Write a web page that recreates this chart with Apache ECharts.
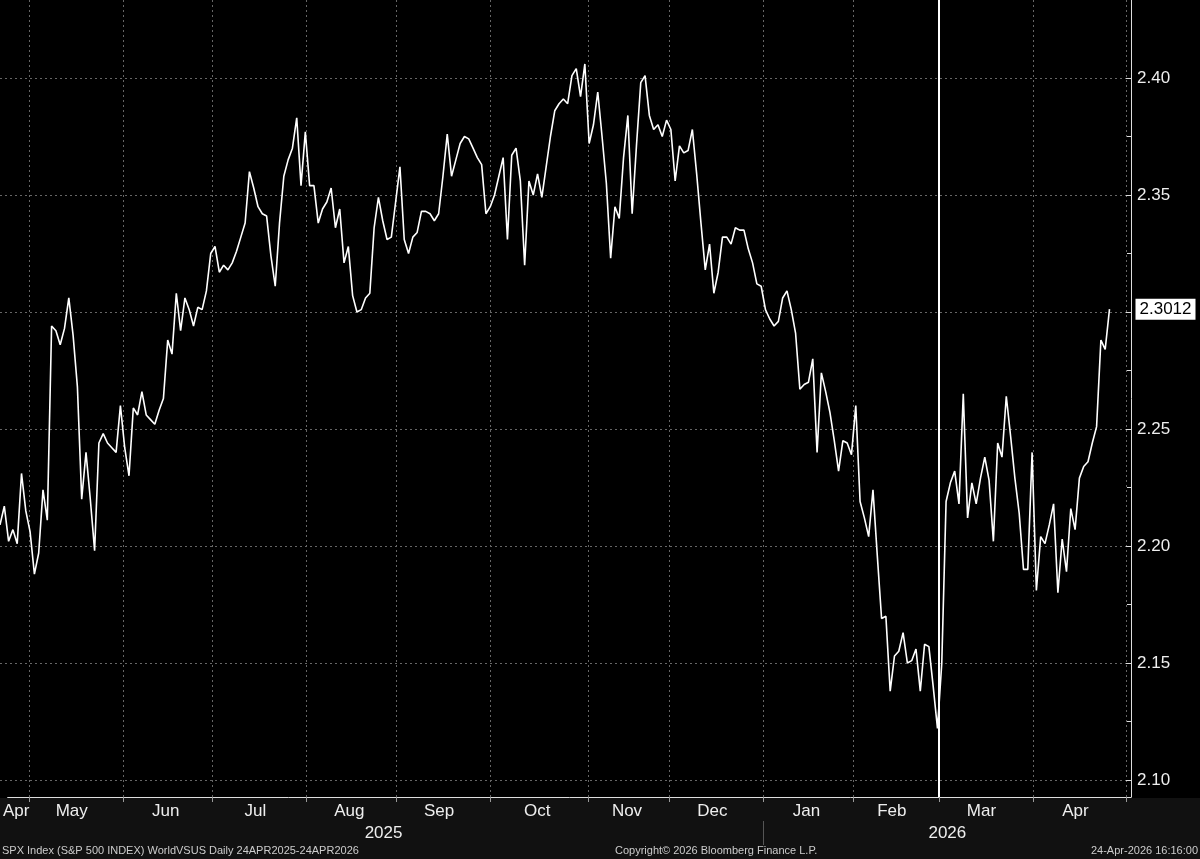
<!DOCTYPE html>
<html>
<head>
<meta charset="utf-8">
<script src="https://cdn.jsdelivr.net/npm/echarts@6/dist/echarts.min.js"></script>
<style>
html,body{margin:0;padding:0;background:#000;}
#chart{width:1200px;height:859px;}
</style>
</head>
<body>
<div id="chart"></div>
<script>
// values, one per trading day
var seg1 = [2.209,2.217,2.202,2.207,2.201,2.231,2.215,2.206,2.188,2.197,2.224,2.211,2.294,2.292,2.286,2.293,
    2.306,2.290,2.268,2.220,2.240,2.220,2.198,2.244,2.248,2.244,2.242,2.240,2.260,2.242,2.230,2.259,2.256,2.266,
    2.256,2.254,2.252,2.258,2.263,2.288,2.282,2.308,2.292,2.306,2.301,2.294,2.302];
var seg2 = [2.301,2.309,2.325,2.328,2.317,2.320,2.318,2.321,2.326,2.332,2.338,2.360,2.353,2.345,2.342,2.341,
    2.324,2.311,2.338,2.358,2.365,2.370,2.383,2.354,2.377,2.354,2.354,2.338,2.344,2.347,2.353,2.336,2.344,2.321,
    2.328,2.307,2.300,2.301,2.306,2.308,2.336,2.349,2.339,2.331];
var seg3 = [2.332,2.347,2.362,2.331,2.325,2.332,2.334,2.343,2.343,2.342,2.339,2.342,2.358,2.376,2.358,2.365,
    2.372,2.375,2.374,2.370,2.366,2.363,2.342,2.345,2.350,2.358,2.366,2.331,2.367,2.370,2.356,2.320,2.356,2.350,
    2.359,2.349,2.362,2.375,2.386,2.389,2.391,2.389,2.401];
var seg4 = [2.404,2.392,2.406,2.372,2.380,2.394,2.375,2.355,2.323,2.345,2.340,2.366,2.384,2.342,2.371,2.398,
    2.401,2.384,2.378,2.380,2.375,2.382,2.378,2.356,2.371,2.368,2.369,2.378,2.359,2.338,2.318,2.329,2.308,2.317,
    2.332,2.332,2.329,2.336,2.335,2.335,2.327,2.321,2.312,2.311];
var seg5 = [2.301,2.297,2.294,2.296,2.306,2.309,2.301,2.291,2.267,2.269,2.270,2.280,2.240,2.274,2.266,2.257,
    2.245,2.232,2.245,2.244,2.239,2.260,2.219,2.212,2.204,2.224,2.196,2.169,2.170,2.138,2.153,2.155,2.163,2.150,
    2.151,2.156,2.138,2.158,2.157,2.140,2.122];
var seg6 = [2.150,2.219,2.227,2.232,2.218,2.265,2.212,2.227,2.218,2.229,2.238,2.228,2.202,2.244,2.238,2.264,
    2.247,2.229,2.214,2.190,2.190,2.240,2.181,2.204,2.201,2.209,2.218,2.180,2.203,2.189,2.216,2.207,2.229,2.234,
    2.236,2.244,2.251,2.288,2.284,2.3012];
var values = seg1.concat(seg2, seg3, seg4, seg5, seg6);

var holidays = ["2025-07-04", "2025-11-27", "2025-12-25", "2026-01-01"];
var monthNames = ["Jan","Feb","Mar","Apr","May","Jun","Jul","Aug","Sep","Oct","Nov","Dec"];
var yMin = 2.10, yMax = 2.40, yStep = 0.05;

// weekday calendar from the first date, padded a few days past the last value
var dates = [];
var d = new Date(Date.UTC(2025, 3, 24));
while (dates.length < values.length + 5) {
    var wd = d.getUTCDay(), s = d.toISOString().slice(0, 10);
    if (wd !== 0 && wd !== 6 && holidays.indexOf(s) < 0) dates.push(s);
    d.setUTCDate(d.getUTCDate() + 1);
}

var monthStart = {}, monthMid = {}, yearStart = {}, yearMid = {};
var groups = {}, ygroups = {};
dates.forEach(function (s, i) {
    var m = s.slice(0, 7), y = s.slice(0, 4);
    (groups[m] = groups[m] || []).push(i);
    (ygroups[y] = ygroups[y] || []).push(i);
});
for (var m in groups) {
    var g = groups[m];
    if (g[0] > 0) monthStart[g[0]] = true;
    if (g.length > 3) monthMid[g[Math.floor((g.length - 1) / 2)]] = monthNames[+m.slice(5) - 1];
}
for (var y in ygroups) {
    var yg = ygroups[y];
    if (yg[0] > 0) yearStart[yg[0]] = true;
    yearMid[yg[Math.floor((yg.length - 1) / 2)]] = y;
}

var minIdx = 0;
values.forEach(function (v, i) { if (v < values[minIdx]) minIdx = i; });

var font = "'Liberation Sans Narrow', 'Liberation Sans', Arial, sans-serif";
var chart = echarts.init(document.getElementById('chart'));
chart.setOption({
    backgroundColor: '#000',
    animation: false,
    grid: [
        { left: 0, right: 69, top: 78, bottom: 79 },   // value scale 2.10..2.40
        { left: 0, right: 69, top: 0, bottom: 62 }     // full frame + date axis
    ],
    xAxis: [{
        type: 'category', data: dates, boundaryGap: false, gridIndex: 0, show: false
    }, {
        type: 'category', data: dates, boundaryGap: false, gridIndex: 1,
        axisLine: { lineStyle: { color: '#ddd' } },
        axisTick: { show: true, interval: function (i) { return !!monthStart[i]; }, length: 5, lineStyle: { color: '#999' } },
        axisLabel: {
            interval: function (i) { return monthMid[i] !== undefined; },
            formatter: function (v, i) { return monthMid[i] || ''; },
            color: '#eee', fontSize: 17, fontFamily: font, margin: 6
        },
        splitLine: { show: true, interval: function (i) { return !!monthStart[i]; },
            lineStyle: { color: '#666', type: [2, 3] } }
    }, {
        type: 'category', data: dates, boundaryGap: false, gridIndex: 1, position: 'bottom', offset: 24,
        axisLine: { show: false },
        axisTick: { show: true, interval: function (i) { return !!yearStart[i]; }, length: 24, lineStyle: { color: '#555' } },
        axisLabel: {
            interval: function (i) { return yearMid[i] !== undefined; },
            formatter: function (v, i) { return yearMid[i] || ''; },
            color: '#eee', fontSize: 17, fontFamily: font, margin: 4
        },
        splitLine: { show: false }
    }],
    yAxis: [{
        type: 'value', gridIndex: 0, position: 'right', min: yMin, max: yMax, interval: yStep,
        axisLine: { show: false },
        axisTick: { show: true, inside: true, length: 5, lineStyle: { color: '#ddd' } },
        minorTick: { show: true, splitNumber: 2, length: 4, lineStyle: { color: '#ddd' } },
        axisLabel: {
            formatter: function (v) { return v.toFixed(2); },
            color: '#eee', fontSize: 17, fontFamily: font, margin: 6
        },
        splitLine: { lineStyle: { color: '#666', type: [2, 3] } }
    }, {
        type: 'value', gridIndex: 1, position: 'right',
        axisLine: { show: true, lineStyle: { color: '#ddd' } },
        axisTick: { show: false }, axisLabel: { show: false }, splitLine: { show: false }
    }],
    graphic: [
        { type: 'rect', z: -10, silent: true, shape: { x: 0, y: 798, width: 1200, height: 61 }, style: { fill: '#111' } },
        { type: 'text', left: 2, top: 845, style: { text: 'SPX Index (S&P 500 INDEX) WorldVSUS Daily 24APR2025-24APR2026', fill: '#ccc', font: '11px ' + font } },
        { type: 'text', left: 615, top: 845, style: { text: 'Copyright\u00a9 2026 Bloomberg Finance L.P.', fill: '#ccc', font: '11px ' + font } },
        { type: 'text', right: 2, top: 845, style: { text: '24-Apr-2026 16:16:00', fill: '#ccc', font: '11px ' + font } }
    ],
    series: [{
        type: 'line', data: values, showSymbol: false, xAxisIndex: 0, yAxisIndex: 0, clip: false,
        lineStyle: { color: '#fff', width: 1.6 },
        endLabel: {
            show: true, formatter: function (p) { return p.value.toFixed(4); },
            color: '#000', backgroundColor: '#fff', padding: [3, 4, 1, 4],
            fontSize: 17, fontFamily: font, distance: 26
        }
    }, {
        // full-height marker at the low point
        type: 'line', data: [], xAxisIndex: 1, yAxisIndex: 1,
        markLine: {
            silent: true, symbol: 'none', label: { show: false },
            lineStyle: { color: '#fff', type: 'solid', width: 2 },
            data: [{ xAxis: dates[minIdx] }]
        }
    }]
});
</script>
</body>
</html>
